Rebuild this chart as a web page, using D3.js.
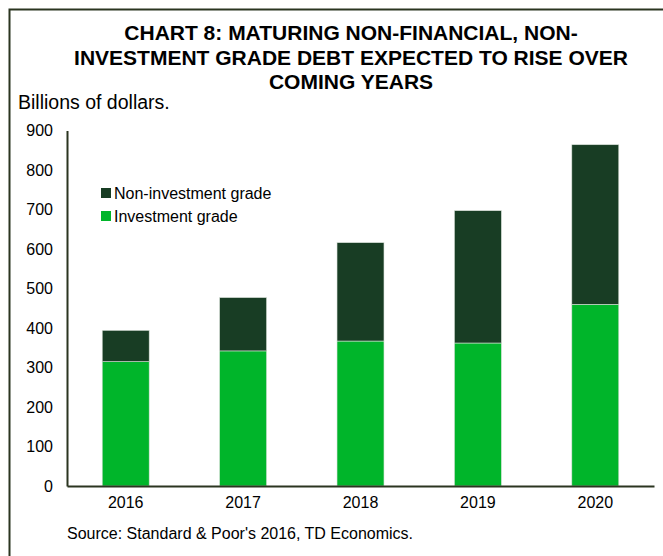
<!DOCTYPE html>
<html>
<head>
<meta charset="utf-8">
<script src="https://d3js.org/d3.v7.min.js"></script>
<style>
  body, html { margin: 0; padding: 0; background: #fff; }
  svg text { font-family: "Liberation Sans", Arial, sans-serif; fill: #000; }
</style>
</head>
<body>
<div id="chart"></div>
<script>
var years = ["2016", "2017", "2018", "2019", "2020"];
var investment = [315, 342, 367, 362, 460];
var nonInvestment = [79, 135, 249, 335, 404];
var yTicks = [0, 100, 200, 300, 400, 500, 600, 700, 800, 900];
var seriesNames = ["Non-investment grade", "Investment grade"];
var seriesColors = ["#183d24", "#00b52a"];

var width = 663, height = 556;
var svg = d3.select("#chart").append("svg")
    .attr("width", width)
    .attr("height", height);

// frame (only top and left edges visible in the picture)
svg.append("path")
    .attr("d", "M9.5,556 V9.5 H663")
    .attr("fill", "none")
    .attr("stroke", "#2b3520")
    .attr("stroke-width", 2);

var titleLines = ["CHART 8: MATURING NON-FINANCIAL, NON-",
                  "INVESTMENT GRADE DEBT EXPECTED TO RISE OVER",
                  "COMING YEARS"];
svg.selectAll("text.title")
    .data(titleLines)
    .join("text")
    .attr("class", "title")
    .attr("x", 351)
    .attr("y", function(d, i) { return 40 + i * 24.5; })
    .attr("text-anchor", "middle")
    .style("font-size", "21px")
    .style("font-weight", "bold")
    .text(function(d) { return d; });

svg.append("text")
    .attr("x", 18)
    .attr("y", 109)
    .style("font-size", "19.5px")
    .text("Billions of dollars.");

var x = d3.scaleBand().domain(years).range([67, 654]).paddingInner(0.6).paddingOuter(0.3);
var y = d3.scaleLinear().domain([0, 900]).range([486, 130.5]);

var stackData = years.map(function(yr, i) {
    return { year: yr, inv: investment[i], non: nonInvestment[i] };
});
var stack = d3.stack().keys(["inv", "non"]);
var layers = stack(stackData);
var layerColor = { inv: seriesColors[1], non: seriesColors[0] };

svg.append("g").selectAll("g")
    .data(layers)
    .join("g")
    .attr("fill", function(d) { return layerColor[d.key]; })
    .selectAll("rect")
    .data(function(d) { return d; })
    .join("rect")
    .attr("x", function(d) { return x(d.data.year); })
    .attr("width", x.bandwidth())
    .attr("y", function(d) { return y(d[1]); })
    .attr("height", function(d) { return y(d[0]) - y(d[1]); })
    .attr("stroke", "#d8e0d8")
    .attr("stroke-width", 0.6);

// y axis
var yAxis = svg.append("g")
    .attr("transform", "translate(67,0)")
    .call(d3.axisLeft(y).tickValues(yTicks).tickSize(0).tickPadding(14));
yAxis.select(".domain").attr("stroke", "#2b3520").attr("stroke-width", 2);
yAxis.selectAll("text").style("font-size", "16px");

// x axis
var xAxis = svg.append("g")
    .attr("transform", "translate(0,486)")
    .call(d3.axisBottom(x).tickSize(0).tickPadding(11));
xAxis.select(".domain").attr("stroke", "#2b3520").attr("stroke-width", 2);
xAxis.selectAll("text").style("font-size", "16px");

// legend
var legend = svg.append("g").selectAll("g")
    .data(seriesNames)
    .join("g")
    .attr("transform", function(d, i) { return "translate(101," + (188 + i * 23) + ")"; });
legend.append("rect")
    .attr("width", 10)
    .attr("height", 10)
    .attr("fill", function(d, i) { return seriesColors[i]; });
legend.append("text")
    .attr("x", 13)
    .attr("y", 10.5)
    .style("font-size", "16px")
    .text(function(d) { return d; });

svg.append("text")
    .attr("x", 67)
    .attr("y", 539)
    .style("font-size", "16px")
    .text("Source: Standard & Poor's 2016, TD Economics.");
</script>
</body>
</html>
